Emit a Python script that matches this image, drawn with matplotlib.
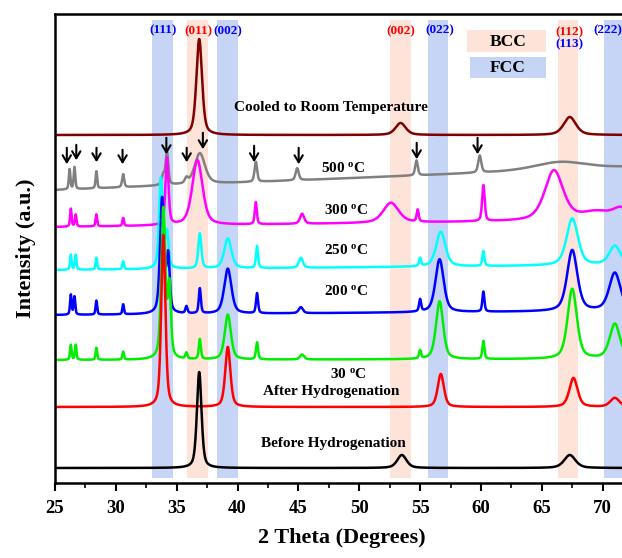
import numpy as np
import matplotlib
matplotlib.use('Agg')
from matplotlib import pyplot as plt
from matplotlib.patches import Rectangle
from matplotlib.ticker import MultipleLocator

plt.rcParams['font.family'] = 'Liberation Serif'
plt.rcParams['font.weight'] = 'bold'
plt.rcParams['mathtext.fontset'] = 'custom'
plt.rcParams['mathtext.rm'] = 'Liberation Serif:bold'
plt.rcParams['mathtext.it'] = 'Liberation Serif:bold'

# ---- data (2theta in degrees, intensity in arb. units) ----
# each pattern: baseline at 25 and 72 deg, then peak centre / height / FWHM
before_base = [15, 15]
before_pos = [36.85, 53.5, 67.3]
before_int = [96, 13, 13]
before_fwhm = [0.45, 0.9, 1.1]

after_base = [76, 76]
after_pos = [33.9, 39.2, 56.7, 67.6, 71.0]
after_int = [172, 60, 33, 29, 9]
after_fwhm = [0.4, 0.5, 0.6, 0.8, 0.9]

t30_base = [123, 124]
t30_pos = [26.3, 26.7, 28.4, 30.6, 33.9, 34.4, 35.8, 36.9, 39.2, 41.6, 45.3, 55.0, 56.6, 60.2, 67.5, 71.0]
t30_int = [15, 15, 12, 8, 150, 70, 6, 20, 45, 17, 5, 8, 58, 18, 70, 35]
t30_fwhm = [0.15, 0.15, 0.15, 0.15, 0.4, 0.3, 0.2, 0.2, 0.6, 0.2, 0.4, 0.2, 0.7, 0.2, 0.9, 1.0]

t200_base = [168, 172]
t200_pos = [26.3, 26.6, 28.4, 30.6, 33.8, 34.3, 35.8, 36.9, 39.2, 41.6, 45.2, 55.0, 56.6, 60.2, 67.5, 71.0]
t200_int = [20, 18, 14, 10, 115, 55, 7, 25, 45, 20, 6, 12, 53, 20, 61, 38]
t200_fwhm = [0.15, 0.15, 0.15, 0.15, 0.4, 0.3, 0.2, 0.2, 0.7, 0.2, 0.4, 0.2, 0.8, 0.2, 1.0, 1.1]

t250_base = [213, 218]
t250_pos = [26.3, 26.7, 28.4, 30.6, 33.7, 34.2, 36.9, 39.2, 41.6, 45.2, 55.0, 56.7, 60.2, 67.5, 71.0]
t250_int = [15, 15, 12, 8, 90, 35, 35, 30, 22, 10, 8, 35, 15, 47, 19]
t250_fwhm = [0.15, 0.15, 0.15, 0.15, 0.35, 0.3, 0.3, 0.7, 0.2, 0.4, 0.2, 0.9, 0.2, 1.1, 1.1]

t300_base = [256, 263]
t300_pos = [26.3, 26.7, 28.4, 30.6, 34.2, 36.7, 41.5, 45.3, 52.6, 54.8, 60.2, 66.0, 69.5, 71.5]
t300_int = [18, 12, 12, 8, 67, 65, 22, 10, 20, 12, 36, 50, 8, 10]
t300_fwhm = [0.15, 0.15, 0.15, 0.15, 0.3, 1.0, 0.2, 0.4, 1.5, 0.2, 0.25, 1.8, 3.0, 1.5]

t500_base = [293, 316]
t500_pos = [26.2, 26.6, 28.4, 30.6, 33.9, 34.2, 35.8, 36.9, 41.5, 44.9, 54.7, 59.9, 66.5]
t500_int = [20, 22, 17, 13, 10, 33, 5, 31, 20, 12, 15, 17, 8]
t500_fwhm = [0.15, 0.15, 0.15, 0.2, 0.3, 0.25, 0.3, 1.0, 0.25, 0.3, 0.25, 0.3, 5.0]

cooled_base = [348, 348]
cooled_pos = [36.85, 53.4, 67.3]
cooled_int = [96, 12, 18]
cooled_fwhm = [0.55, 1.0, 1.2]

# drawn from top to bottom so the lower patterns sit on top
patterns = [
    ('Cooled to Room Temperature', '#800000', cooled_base, cooled_pos, cooled_int, cooled_fwhm),
    ('500', '#808080', t500_base, t500_pos, t500_int, t500_fwhm),
    ('300', '#ff00ff', t300_base, t300_pos, t300_int, t300_fwhm),
    ('250', '#00ffff', t250_base, t250_pos, t250_int, t250_fwhm),
    ('200', '#0000ff', t200_base, t200_pos, t200_int, t200_fwhm),
    ('30', '#00ee00', t30_base, t30_pos, t30_int, t30_fwhm),
    ('After Hydrogenation', '#ff0000', after_base, after_pos, after_int, after_fwhm),
    ('Before Hydrogenation', '#000000', before_base, before_pos, before_int, before_fwhm),
]

# labels of the curves: text, x, y
curve_labels = [
    ('Cooled to Room Temperature', 47.7, 375),
    (r'500 $^{\rm o}$C', 48.7, 315),
    (r'300 $^{\rm o}$C', 48.9, 273),
    (r'250 $^{\rm o}$C', 48.9, 233),
    (r'200 $^{\rm o}$C', 48.9, 192),
    (r'30 $^{\rm o}$C', 49.1, 109),
    ('After Hydrogenation', 47.7, 91),
    ('Before Hydrogenation', 47.9, 40),
]

# reflection bands
bcc_bands = [(35.85, 37.6), (52.5, 54.25), (66.3, 68.0)]
fcc_bands = [(33.0, 34.7), (38.3, 40.0), (55.65, 57.3), (70.1, 71.7)]
hkl_labels = [('(111)', 33.9, 453, 'b'), ('(011)', 36.8, 452, 'r'), ('(002)', 39.2, 452, 'b'),
              ('(002)', 53.45, 452, 'r'), ('(022)', 56.6, 453, 'b'), ('(112)', 67.25, 451, 'r'),
              ('(113)', 67.25, 439, 'b'), ('(222)', 70.45, 453, 'b')]

# impurity arrows on the 500 C pattern: x, top, bottom
arrow_x = [25.97, 26.75, 28.41, 30.55, 34.15, 35.82, 37.15, 41.36, 45.02, 54.72, 59.72]
arrow_top = [338, 341, 338, 336, 348, 338, 353, 340, 338, 343, 348]
arrow_bot = [316, 320, 318, 316, 326, 318, 331, 318, 316, 321, 326]

BCC_COL = '#fde3d8'
FCC_COL = '#c6d5f5'


def pattern(x, base, pos, inten, fwhm):
    y = base[0] + (base[1] - base[0]) * (x - x[0]) / (x[-1] - x[0])
    for c, h, w in zip(pos, inten, fwhm):
        d = (x - c) / (w / 2.)
        y = y + h * (0.5 / (1 + d**2) + 0.5 * np.exp(-np.log(2) * d**2))
    return y


fig = plt.figure(figsize=(6.22, 5.58), dpi=100)
ax = fig.add_axes([55/622, 75/558, 1 - 55/622 + 0.01, 469/558])

for lo, hi in bcc_bands:
    ax.add_patch(Rectangle((lo, 5), hi - lo, 458, color=BCC_COL, lw=0, zorder=0))
for lo, hi in fcc_bands:
    ax.add_patch(Rectangle((lo, 5), hi - lo, 458, color=FCC_COL, lw=0, zorder=0))

x = np.linspace(25, 72.2, 5000)
for name, col, base, pos, inten, fwhm in patterns:
    ax.plot(x, pattern(x, base, pos, inten, fwhm), color=col, lw=1.8)

for txt, tx, ty in curve_labels:
    ax.text(tx, ty, txt, ha='center', va='center', fontsize=11, fontweight='bold')

for txt, tx, ty, c in hkl_labels:
    ax.text(tx, ty, txt, ha='center', va='center', fontsize=9.5, fontweight='bold',
            color='red' if c == 'r' else 'blue')

# legend boxes
ax.add_patch(Rectangle((58.86, 431), 6.5, 22, color=BCC_COL, lw=0))
ax.add_patch(Rectangle((59.1, 405), 6.25, 21, color=FCC_COL, lw=0))
ax.text(62.2, 441, 'BCC', ha='center', va='center', fontsize=12.5, fontweight='bold')
ax.text(62.2, 415, 'FCC', ha='center', va='center', fontsize=12.5, fontweight='bold')

for ax_x, t, b in zip(arrow_x, arrow_top, arrow_bot):
    ax.annotate('', xy=(ax_x, b), xytext=(ax_x, t),
                arrowprops=dict(arrowstyle='->,head_length=0.5,head_width=0.3',
                                color='k', lw=1.5))

ax.set_xlim(25, 72.1)
ax.set_ylim(0, 469)
ax.spines['right'].set_visible(False)
for s in ['left', 'top', 'bottom']:
    ax.spines[s].set_linewidth(1.8)
ax.set_yticks([])
ax.xaxis.set_major_locator(MultipleLocator(5))
ax.xaxis.set_minor_locator(MultipleLocator(2.5))
ax.tick_params(axis='x', which='major', direction='out', length=6, width=1.5,
               labelsize=13.5, pad=6)
ax.tick_params(axis='x', which='minor', direction='out', length=3.5, width=1.2)
for lab in ax.get_xticklabels():
    lab.set_fontweight('bold')

ax.set_xlabel('2 Theta (Degrees)', fontsize=16, fontweight='bold', labelpad=8)
ax.set_ylabel('Intensity (a.u.)', fontsize=16, fontweight='bold', labelpad=14)

fig.savefig('out.png', dpi=100)
